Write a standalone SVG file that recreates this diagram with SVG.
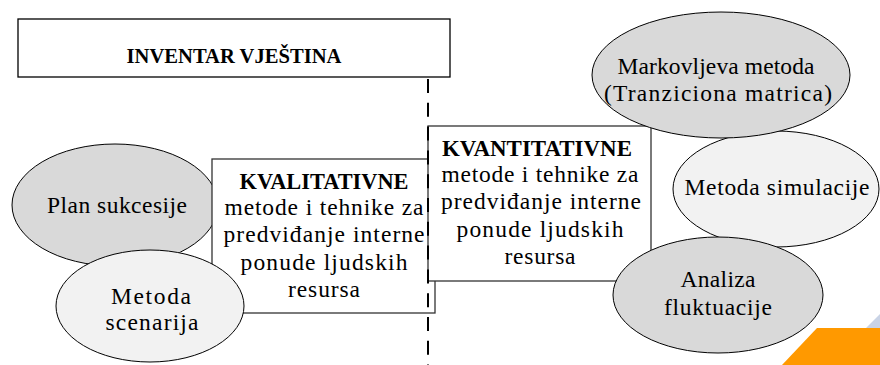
<svg xmlns="http://www.w3.org/2000/svg" width="880" height="365" viewBox="0 0 880 365">
<style>
.t{font-family:"Liberation Serif","Times New Roman",serif;font-size:23.5px;fill:#000;text-anchor:middle;}
.b{font-weight:bold;font-size:22.5px;}
.box{fill:#fff;stroke:#333;stroke-width:1.3;}
.eg{fill:#d9d9d9;stroke:#000;stroke-width:1;}
.el{fill:#f2f2f2;stroke:#000;stroke-width:1;}
</style>
<rect width="880" height="365" fill="#fff"/>
<g id="deco">
<polygon points="866,328 880,314 880,328" fill="#c9d3e6"/>
<polygon points="817,328 880,328 880,365 782,365" fill="#ff9900"/>
</g>
<g id="inventar">
<rect class="box" x="18" y="19" width="432" height="58" style="stroke:#000"/>
<text class="t b" x="234" y="63" style="font-size:21px" textLength="215" lengthAdjust="spacingAndGlyphs">INVENTAR VJEŠTINA</text>
</g>
<g id="plan">
<ellipse class="eg" cx="115" cy="205" rx="103" ry="61"/>
<text class="t" x="117" y="213" textLength="140">Plan sukcesije</text>
</g>
<g id="kvalitativne">
<rect class="box" x="212" y="159" width="223" height="154"/>
<text class="t b" x="324" y="189" textLength="169" lengthAdjust="spacingAndGlyphs">KVALITATIVNE</text>
<text class="t" x="324" y="215" textLength="199">metode i tehnike za</text>
<text class="t" x="324" y="242" textLength="201">predviđanje interne</text>
<text class="t" x="324" y="270" textLength="167">ponude ljudskih</text>
<text class="t" x="324" y="297" textLength="72">resursa</text>
</g>
<g id="scenarija">
<ellipse class="el" cx="150" cy="306" rx="94" ry="56"/>
<text class="t" x="151" y="304" textLength="80">Metoda</text>
<text class="t" x="152" y="330" textLength="93">scenarija</text>
</g>
<g id="kvantitativne">
<rect class="box" x="428" y="126" width="223" height="155"/>
<text class="t b" x="537" y="156" textLength="190" lengthAdjust="spacingAndGlyphs">KVANTITATIVNE</text>
<text class="t" x="540" y="182" textLength="197">metode i tehnike za</text>
<text class="t" x="541" y="209" textLength="200">predviđanje interne</text>
<text class="t" x="540" y="237" textLength="167">ponude ljudskih</text>
<text class="t" x="540" y="264" textLength="71">resursa</text>
</g>
<g id="connectors">
<line x1="428" y1="79" x2="428" y2="365" stroke="#000" stroke-width="2" stroke-dasharray="14 9.8"/>
</g>
<g id="simulacije">
<ellipse class="el" cx="776" cy="189" rx="103" ry="58"/>
<text class="t" x="777" y="195" textLength="185">Metoda simulacije</text>
</g>
<g id="markov">
<ellipse class="eg" cx="721" cy="75" rx="129" ry="63"/>
<text class="t" x="716" y="74" textLength="197">Markovljeva metoda</text>
<text class="t" x="718" y="101" textLength="228">(Tranziciona matrica)</text>
</g>
<g id="analiza">
<ellipse class="eg" cx="718" cy="295" rx="105" ry="58"/>
<text class="t" x="718" y="287" textLength="75">Analiza</text>
<text class="t" x="718" y="315" textLength="108">fluktuacije</text>
</g>
</svg>
